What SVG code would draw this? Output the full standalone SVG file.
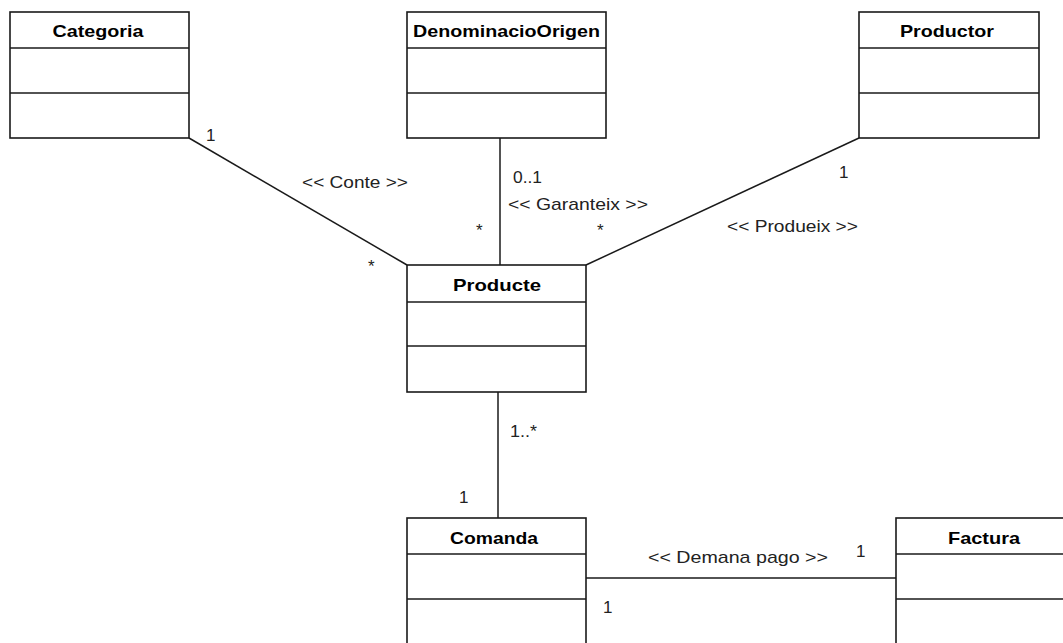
<svg xmlns="http://www.w3.org/2000/svg" width="1063" height="643" viewBox="0 0 1063 643">
<style>
.box{fill:#fff;stroke:#1a1a1a;stroke-width:1.6}
.sep{stroke:#1a1a1a;stroke-width:1.6}
.title{font-family:"Liberation Sans",Arial,sans-serif;font-weight:bold;font-size:17px;fill:#000;text-anchor:middle}
.lbl{font-family:"Liberation Sans",Arial,sans-serif;font-size:17px;fill:#222}
.conn{stroke:#1a1a1a;stroke-width:1.5;fill:none}
</style>
<rect width="1063" height="643" fill="#fff"/>
<g id="connectors">
<line class="conn" x1="189" y1="138" x2="407" y2="265"/>
<line class="conn" x1="500" y1="138" x2="500" y2="265"/>
<line class="conn" x1="859" y1="138" x2="586" y2="265"/>
<line class="conn" x1="498" y1="392" x2="498" y2="518"/>
<line class="conn" x1="586" y1="578" x2="896" y2="578"/>
<text class="lbl" x="206" y="141">1</text>
<text class="lbl" x="302" y="188" textLength="106" lengthAdjust="spacingAndGlyphs">&lt;&lt; Conte &gt;&gt;</text>
<text class="lbl" x="368" y="272">*</text>
<text class="lbl" x="513" y="183" textLength="29" lengthAdjust="spacingAndGlyphs">0..1</text>
<text class="lbl" x="508" y="210" textLength="140" lengthAdjust="spacingAndGlyphs">&lt;&lt; Garanteix &gt;&gt;</text>
<text class="lbl" x="476" y="236">*</text>
<text class="lbl" x="597" y="236">*</text>
<text class="lbl" x="839" y="178">1</text>
<text class="lbl" x="727" y="232" textLength="131" lengthAdjust="spacingAndGlyphs">&lt;&lt; Produeix &gt;&gt;</text>
<text class="lbl" x="510" y="437" textLength="27" lengthAdjust="spacingAndGlyphs">1..*</text>
<text class="lbl" x="459" y="503">1</text>
<text class="lbl" x="648" y="563" textLength="180" lengthAdjust="spacingAndGlyphs">&lt;&lt; Demana pago &gt;&gt;</text>
<text class="lbl" x="856" y="557">1</text>
<text class="lbl" x="603" y="613">1</text>
</g>
<g id="Categoria">
<rect class="box" x="10" y="12" width="179" height="126"/>
<line class="sep" x1="10" y1="48" x2="189" y2="48"/>
<line class="sep" x1="10" y1="93" x2="189" y2="93"/>
<text class="title" x="98" y="37" textLength="91" lengthAdjust="spacingAndGlyphs">Categoria</text>
</g>
<g id="DenominacioOrigen">
<rect class="box" x="407" y="12" width="199" height="126"/>
<line class="sep" x1="407" y1="48" x2="606" y2="48"/>
<line class="sep" x1="407" y1="93" x2="606" y2="93"/>
<text class="title" x="506.5" y="37" textLength="187" lengthAdjust="spacingAndGlyphs">DenominacioOrigen</text>
</g>
<g id="Productor">
<rect class="box" x="859" y="12" width="180" height="126"/>
<line class="sep" x1="859" y1="48" x2="1039" y2="48"/>
<line class="sep" x1="859" y1="93" x2="1039" y2="93"/>
<text class="title" x="947" y="37" textLength="94" lengthAdjust="spacingAndGlyphs">Productor</text>
</g>
<g id="Producte">
<rect class="box" x="407" y="265" width="179" height="127"/>
<line class="sep" x1="407" y1="302" x2="586" y2="302"/>
<line class="sep" x1="407" y1="346" x2="586" y2="346"/>
<text class="title" x="497" y="291" textLength="88" lengthAdjust="spacingAndGlyphs">Producte</text>
</g>
<g id="Comanda">
<rect class="box" x="407" y="518" width="179" height="140"/>
<line class="sep" x1="407" y1="554" x2="586" y2="554"/>
<line class="sep" x1="407" y1="599" x2="586" y2="599"/>
<text class="title" x="494" y="544" textLength="88" lengthAdjust="spacingAndGlyphs">Comanda</text>
</g>
<g id="Factura">
<rect class="box" x="896" y="518" width="180" height="140"/>
<line class="sep" x1="896" y1="554" x2="1076" y2="554"/>
<line class="sep" x1="896" y1="599" x2="1076" y2="599"/>
<text class="title" x="984" y="544" textLength="72" lengthAdjust="spacingAndGlyphs">Factura</text>
</g>
</svg>
